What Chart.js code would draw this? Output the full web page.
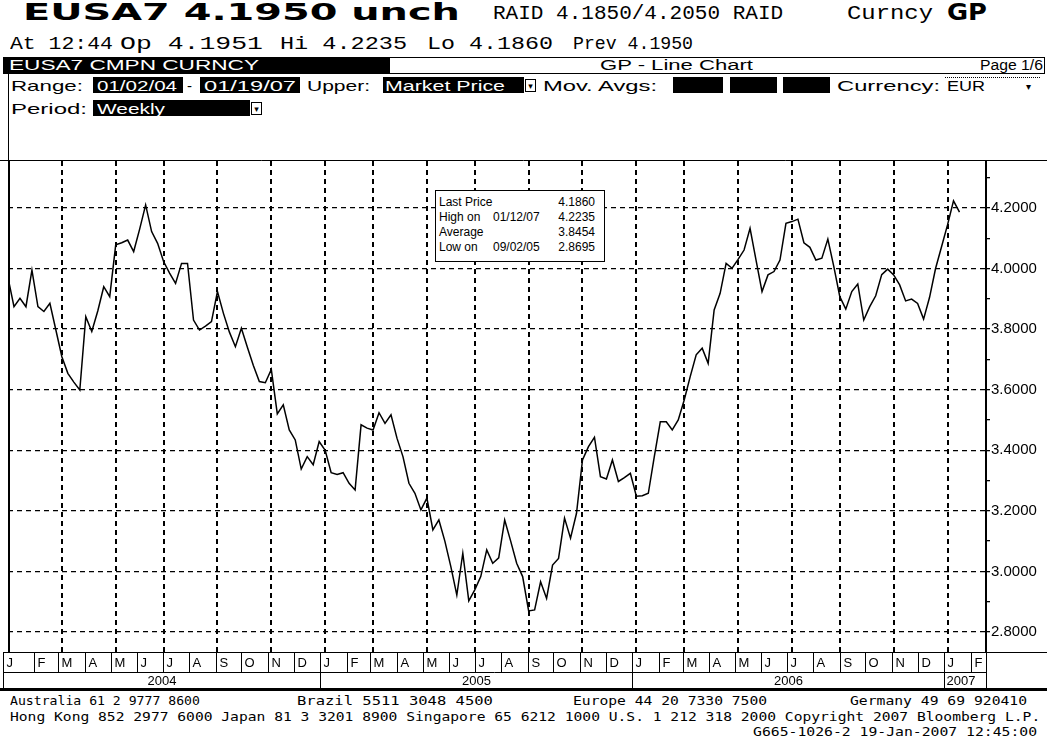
<!DOCTYPE html>
<html>
<head>
<meta charset="utf-8">
<title>EUSA7 CMPN CURNCY - GP Line Chart</title>
<script src="https://cdn.jsdelivr.net/npm/chart.js@4.4.1/dist/chart.umd.min.js"></script>
<style>
  body { margin: 0; background: #fff; }
  #page { position: relative; width: 1047px; height: 740px; overflow: hidden; background: #fff; color: #000;
          font-family: "Liberation Sans", Arial, sans-serif; }
  .t { position: absolute; white-space: nowrap; line-height: 1; transform-origin: 0 0; }
  .big { font-family: "DejaVu Sans", sans-serif; font-weight: bold; font-size: 23px; }
  .mono { font-family: "Liberation Mono", "DejaVu Sans Mono", monospace; }
  .row { font-size: 15px; }
  .box { position: absolute; background: #000; }
  .w { color: #fff; }
  .drop { position: absolute; width: 11px; height: 13px; background: #fff; border: 1px solid #000;
          box-sizing: border-box; font: 9px "DejaVu Sans", sans-serif; line-height: 12px; text-align: center; }
  #bar { position: absolute; left: 3px; top: 57px; width: 1042px; height: 17px; border: 1px solid #000; box-sizing: border-box; }
  #rows { position: absolute; left: 8px; top: 74px; width: 1px; height: 86px; background: #000; }
  #chartBox { position: absolute; left: 0; top: 160px; width: 1047px; height: 532px; }
  #stats { position: absolute; left: 435px; top: 190px; width: 170px; height: 72px; background: #fff;
           border: 1px solid #000; box-sizing: border-box; font-size: 12px; z-index: 2; }
  #stats div { position: absolute; white-space: nowrap; line-height: 1; }
  .foot { font-family: "DejaVu Sans Mono", monospace; font-size: 13px; }
</style>
</head>
<body>
<div id="page">
  <!-- title lines -->
  <div class="t big" style="left:23px;top:1px" data-w="437">EUSA7 4.1950 unch</div>
  <div class="t mono" style="left:493px;top:4px;font-size:20px" data-w="290">RAID 4.1850/4.2050 RAID</div>
  <div class="t mono" style="left:847px;top:4px;font-size:20px" data-w="86">Curncy</div>
  <div class="t big" style="left:947px;top:1px" data-w="40">GP</div>

  <div class="t mono" style="left:10px;top:35px;font-size:19px" data-w="103">At 12:44</div>
  <div class="t mono" style="left:120px;top:35px;font-size:19px" data-w="143">Op 4.1951</div>
  <div class="t mono" style="left:280px;top:35px;font-size:19px" data-w="127">Hi 4.2235</div>
  <div class="t mono" style="left:427px;top:35px;font-size:19px" data-w="126">Lo 4.1860</div>
  <div class="t mono" style="left:573px;top:35px;font-size:19px" data-w="120">Prev 4.1950</div>

  <!-- screen bar -->
  <div id="bar"></div>
  <div class="box" style="left:3px;top:57px;width:387px;height:17px"></div>
  <div class="t row w" style="left:9px;top:58px;font-size:14px" data-w="250">EUSA7 CMPN CURNCY</div>
  <div class="t row" style="left:600px;top:58px;font-size:14px" data-w="153">GP - Line Chart</div>
  <div class="t row" style="left:980px;top:58px;font-size:14px" data-w="63">Page 1/6</div>
  <div id="rows"></div>

  <!-- range row -->
  <div class="t row" style="left:11px;top:78px" data-w="72">Range:</div>
  <div class="box" style="left:93px;top:77px;width:90px;height:16px"></div>
  <div class="t row w" style="left:97px;top:78px" data-w="80">01/02/04</div>
  <div class="t row" style="left:187px;top:78px">-</div>
  <div class="box" style="left:200px;top:77px;width:100px;height:16px"></div>
  <div class="t row w" style="left:204px;top:78px" data-w="92">01/19/07</div>
  <div class="t row" style="left:307px;top:78px" data-w="63">Upper:</div>
  <div class="box" style="left:383px;top:77px;width:141px;height:16px"></div>
  <div class="t row w" style="left:385px;top:78px" data-w="120">Market Price</div>
  <div class="drop" style="left:525px;top:79px">&#9662;</div>
  <div class="t row" style="left:543px;top:78px" data-w="114">Mov. Avgs:</div>
  <div class="box" style="left:673px;top:77px;width:50px;height:16px"></div>
  <div class="box" style="left:730px;top:77px;width:47px;height:16px"></div>
  <div class="box" style="left:783px;top:77px;width:47px;height:16px"></div>
  <div class="t row" style="left:837px;top:78px" data-w="103">Currency:</div>
  <div class="t row" style="left:947px;top:78px" data-w="38">EUR</div>
  <div style="position:absolute;left:945px;top:77px;width:95px;height:1px;border-top:1px dotted #000"></div>
  <div class="t" style="left:1026px;top:81px;font:10px 'DejaVu Sans',sans-serif">&#9662;</div>

  <!-- period row -->
  <div class="t row" style="left:11px;top:101px" data-w="76">Period:</div>
  <div class="box" style="left:93px;top:100px;width:157px;height:16px"></div>
  <div class="t row w" style="left:97px;top:101px" data-w="68">Weekly</div>
  <div class="drop" style="left:251px;top:102px">&#9662;</div>

  <!-- chart -->
  <div id="chartBox"><canvas id="gp" width="1047" height="532"></canvas></div>

  <div id="stats"></div>

  <!-- footer -->
  <div class="t foot" style="left:10px;top:694px" data-w="190">Australia 61 2 9777 8600</div>
  <div class="t foot" style="left:297px;top:694px" data-w="196">Brazil 5511 3048 4500</div>
  <div class="t foot" style="left:573px;top:694px" data-w="194">Europe 44 20 7330 7500</div>
  <div class="t foot" style="left:850px;top:694px" data-w="177">Germany 49 69 920410</div>
  <div class="t foot" style="left:10px;top:710px" data-w="1030">Hong Kong 852 2977 6000 Japan 81 3 3201 8900 Singapore 65 6212 1000 U.S. 1 212 318 2000 Copyright 2007 Bloomberg L.P.</div>
  <div class="t foot" style="left:753px;top:725px" data-w="284">G665-1026-2 19-Jan-2007 12:45:00</div>
</div>

<script>
// weekly closes, Friday 02 Jan 2004 to Friday 19 Jan 2007
const firstWeek = Date.UTC(2004, 0, 2);
const weeklyPrices = [
  3.970, 3.874, 3.902, 3.874, 3.995, 3.874, 3.858, 3.885, 3.797, 3.709,
  3.654, 3.625, 3.599, 3.841, 3.792, 3.860, 3.940, 3.907, 4.078, 4.085,
  4.094, 4.056, 4.130, 4.210, 4.122, 4.083, 4.023, 3.985, 3.951, 4.017,
  4.017, 3.830, 3.797, 3.810, 3.825, 3.924, 3.852, 3.790, 3.742, 3.803,
  3.740, 3.680, 3.627, 3.623, 3.667, 3.520, 3.550, 3.467, 3.434, 3.338,
  3.379, 3.352, 3.429, 3.400, 3.326, 3.320, 3.326, 3.291, 3.269, 3.484,
  3.473, 3.467, 3.524, 3.489, 3.517, 3.440, 3.379, 3.291, 3.258, 3.203,
  3.242, 3.137, 3.170, 3.100, 3.016, 2.922, 3.060, 2.903, 2.939, 2.983,
  3.071, 3.027, 3.045, 3.170, 3.100, 3.027, 2.983, 2.8695, 2.873, 2.966,
  2.911, 3.021, 3.043, 3.176, 3.110, 3.192, 3.368, 3.412, 3.443, 3.313,
  3.305, 3.368, 3.297, 3.310, 3.324, 3.248, 3.250, 3.258, 3.379, 3.494,
  3.494, 3.467, 3.500, 3.566, 3.643, 3.715, 3.737, 3.687, 3.863, 3.918,
  4.017, 4.001, 4.030, 4.061, 4.133, 4.028, 3.924, 3.979, 3.990, 4.028,
  4.149, 4.155, 4.163, 4.085, 4.070, 4.028, 4.034, 4.097, 4.006, 3.907,
  3.866, 3.924, 3.949, 3.830, 3.874, 3.910, 3.980, 3.998, 3.979, 3.946,
  3.893, 3.899, 3.885, 3.833, 3.905, 4.000, 4.072, 4.144, 4.2235, 4.186
];
const monthLetters = ['J', 'F', 'M', 'A', 'M', 'J', 'J', 'A', 'S', 'O', 'N', 'D'];
const yearLabels = ['2004', '2005', '2006', '2007'];
const priceTicks = [2.8, 2.9, 3.0, 3.1, 3.2, 3.3, 3.4, 3.5, 3.6, 3.7, 3.8, 3.9, 4.0, 4.1, 4.2, 4.3];
const statRows = [
  ['Last Price', '', '4.1860'],
  ['High on', '01/12/07', '4.2235'],
  ['Average', '', '3.8454'],
  ['Low on', '09/02/05', '2.8695']
];

const DAY = 86400000;
const dayOf = (y, m, d) => (Date.UTC(y, m, d) - firstWeek) / DAY;

// month and year starts from Jan 2004 to Feb 2007, in days from the first week
const monthStarts = [];
for (let i = 0; i < 38; i++) monthStarts.push(dayOf(2004 + Math.floor(i / 12), i % 12, 1));
const yearStarts = yearLabels.map(y => dayOf(+y, 0, 1));

// grid: first weekly point of Jan, Mar, May, Jul, Sep, Nov
const gridDays = [];
weeklyPrices.forEach((v, i) => {
  const d = new Date(firstWeek + i * 7 * DAY);
  if (i > 0 && d.getUTCMonth() % 2 === 0 && d.getUTCDate() <= 7) gridDays.push(i * 7);
});

const isMajor = v => Math.abs(Math.round(v * 5) - v * 5) < 1e-6;

const calendarRows = {
  id: 'calendarRows',
  afterDraw(chart) {
    const { ctx, chartArea: a, scales: { x } } = chart;
    const W = chart.width;
    const top = Math.round(a.bottom) + 0.5, mid = top + 20, bot = top + 36;
    const px = d => Math.round(Math.min(a.right, Math.max(a.left, x.getPixelForValue(d)))) + 0.5;
    ctx.save();
    ctx.strokeStyle = '#000';
    ctx.lineWidth = 1;
    ctx.beginPath();
    ctx.moveTo(0, 0.5); ctx.lineTo(W, 0.5);
    ctx.moveTo(3, top); ctx.lineTo(W, top);
    ctx.moveTo(3, mid); ctx.lineTo(a.right, mid);
    ctx.moveTo(3.5, top); ctx.lineTo(3.5, bot);
    ctx.moveTo(Math.round(a.right) + 0.5, top); ctx.lineTo(Math.round(a.right) + 0.5, bot);
    ctx.stroke();
    ctx.lineWidth = 2;
    ctx.beginPath();
    ctx.moveTo(Math.round(a.left) + 1, 0); ctx.lineTo(Math.round(a.left) + 1, top);
    ctx.stroke();
    ctx.lineWidth = 1;

    ctx.fillStyle = '#000';
    ctx.textBaseline = 'middle';
    ctx.font = '13px "Liberation Sans", Arial, sans-serif';
    monthStarts.forEach((d, i) => {
      const x0 = i === 0 ? 3.5 : px(d);
      if (i > 0) { ctx.beginPath(); ctx.moveTo(x0, top); ctx.lineTo(x0, mid); ctx.stroke(); }
      ctx.fillText(monthLetters[i % 12], x0 + 3, (top + mid) / 2 + 1);
    });
    yearStarts.forEach((d, i) => {
      const x0 = i === 0 ? 3.5 : px(d);
      const x1 = i + 1 < yearStarts.length ? px(yearStarts[i + 1]) : a.right;
      if (i > 0) { ctx.beginPath(); ctx.moveTo(x0, mid); ctx.lineTo(x0, bot); ctx.stroke(); }
      ctx.textAlign = i === yearStarts.length - 1 ? 'left' : 'center';
      ctx.fillText(yearLabels[i], i === yearStarts.length - 1 ? x0 + 2 : (x0 + x1) / 2, (mid + bot) / 2 + 1);
    });
    ctx.fillRect(0, bot - 0.5, W, 3);
    ctx.restore();
  }
};

new Chart(document.getElementById('gp'), {
  type: 'line',
  data: {
    datasets: [{
      data: weeklyPrices.map((v, i) => ({ x: i * 7, y: v })),
      borderColor: '#000',
      borderWidth: 1.5,
      pointRadius: 0,
      tension: 0
    }]
  },
  options: {
    responsive: false,
    devicePixelRatio: 1,
    animation: false,
    events: [],
    layout: { padding: { top: 1, left: 8, right: 0, bottom: 0 } },
    plugins: { legend: { display: false }, tooltip: { enabled: false } },
    scales: {
      x: {
        type: 'linear',
        min: 0,
        max: 1144,
        afterBuildTicks: s => { s.ticks = gridDays.map(v => ({ value: v })); },
        afterFit: s => { s.height = 40; s.paddingLeft = 0; s.paddingRight = 0; },
        ticks: { display: false },
        grid: { color: '#000', lineWidth: 2, drawTicks: false },
        border: { display: false, dash: [5, 4] }
      },
      y: {
        type: 'linear',
        position: 'right',
        min: 2.734,
        max: 4.355,
        afterBuildTicks: s => { s.ticks = priceTicks.map(v => ({ value: v })); },
        afterFit: s => { s.width = 61; s.paddingTop = 0; s.paddingBottom = 0; },
        ticks: {
          autoSkip: false,
          padding: 1,
          color: '#000',
          font: { family: '"Liberation Sans", Arial, sans-serif', size: 15 },
          callback: v => isMajor(v) ? v.toFixed(4) : ''
        },
        grid: {
          color: c => isMajor(c.tick.value) ? '#000' : 'rgba(0,0,0,0)',
          tickColor: '#000',
          tickLength: 4,
          lineWidth: 1.3
        },
        border: { display: true, color: '#000', width: 2, dash: [5, 4] }
      }
    }
  },
  plugins: [calendarRows]
});

// statistics box
const stats = document.getElementById('stats');
statRows.forEach((r, i) => {
  const top = 5 + i * 15;
  stats.insertAdjacentHTML('beforeend',
    `<div style="left:3px;top:${top}px">${r[0]}</div>` +
    (r[1] ? `<div style="left:57px;top:${top}px">${r[1]}</div>` : '') +
    `<div style="right:9px;top:${top}px">${r[2]}</div>`);
});

// stretch header and footer text to the widths of the screen font
document.querySelectorAll('[data-w]').forEach(el => {
  const natural = el.getBoundingClientRect().width;
  if (natural > 0) el.style.transform = `scaleX(${(+el.dataset.w / natural).toFixed(3)})`;
});
</script>
</body>
</html>
